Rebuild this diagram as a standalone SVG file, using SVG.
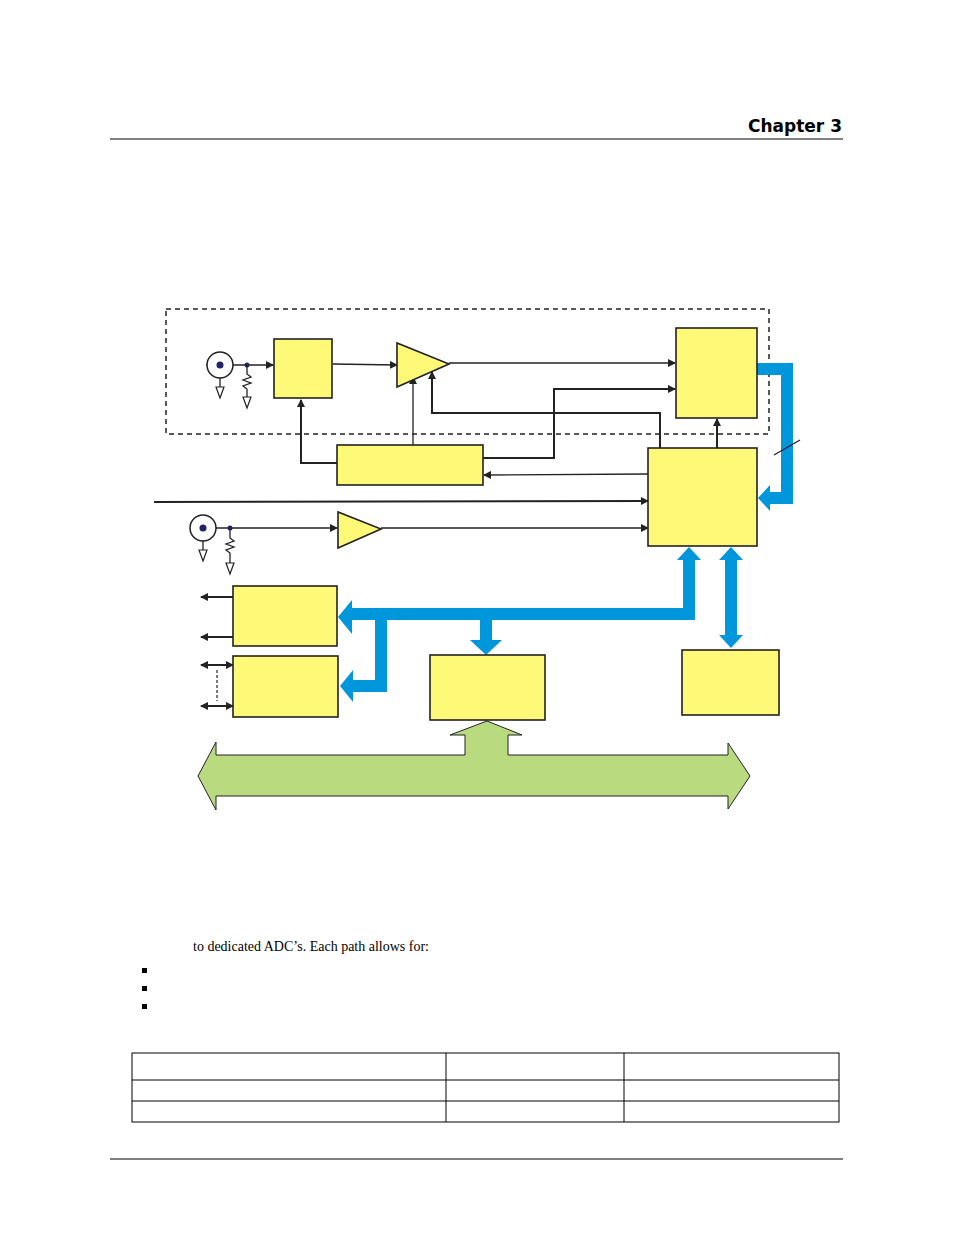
<svg xmlns="http://www.w3.org/2000/svg" width="954" height="1235" viewBox="0 0 954 1235">
<style>
.b{fill:#fff978;stroke:#222;stroke-width:1.6}
.l{fill:none;stroke:#222;stroke-width:1.3}
.t{fill:none;stroke:#222;stroke-width:2}
.bl{fill:none;stroke:#0096dc;stroke-width:12}
.bf{fill:#0096dc}
.g{fill:#fff;stroke:#222;stroke-width:1.2}
</style>
<defs>
<marker id="a" markerWidth="8" markerHeight="8" refX="7" refY="4" orient="auto" markerUnits="userSpaceOnUse"><path d="M0,0 L8,4 L0,8 z" fill="#222"/></marker>
<marker id="as" markerWidth="8" markerHeight="8" refX="1" refY="4" orient="auto" markerUnits="userSpaceOnUse"><path d="M8,0 L0,4 L8,8 z" fill="#222"/></marker>
</defs>
<rect width="954" height="1235" fill="#fff"/>
<text x="842" y="132" text-anchor="end" font-family="DejaVu Sans" font-weight="bold" font-size="17">Chapter 3</text>
<line x1="110" y1="139" x2="843" y2="139" stroke="#000" stroke-width="1"/>
<line x1="110" y1="1159" x2="843" y2="1159" stroke="#000" stroke-width="1"/>
<rect x="166" y="309" width="603" height="125" fill="none" stroke="#222" stroke-width="1.5" stroke-dasharray="5,4"/>
<g id="green-bus"><polygon points="198,776 216,742 216,755 465,755 465,735 450,735 487,721 522,735 508,735 508,755 728,755 728,743 750,776 728,809 728,796 216,796 216,810" fill="#bada80" stroke="#222" stroke-width="1"/></g>
<g id="connectors">
<path class="bl" d="M757,369 H787 V498 H768"/>
<polygon class="bf" points="758,498 770,485 770,511"/>
<line x1="774" y1="455" x2="800" y2="440" stroke="#222" stroke-width="1.3"/>
<path class="bl" d="M689,558 V614 H350"/>
<polygon class="bf" points="689,547 701,560 677,560"/>
<polygon class="bf" points="338,617 352,600 352,634"/>
<path class="bl" d="M381,614 V686 H352"/>
<polygon class="bf" points="340,686 353,670 353,702"/>
<path class="bl" d="M486,620 V642"/>
<polygon class="bf" points="486,655 470,640 502,640"/>
<path class="bl" d="M731,558 V638"/>
<polygon class="bf" points="731,547 743,560 719,560"/>
<polygon class="bf" points="731,648 743,635 719,635"/>
<line class="l" x1="206" y1="365" x2="273" y2="365" marker-end="url(#a)"/>
<line class="l" x1="333" y1="364" x2="397" y2="365" marker-end="url(#a)"/>
<line class="l" x1="449" y1="363" x2="675" y2="363" marker-end="url(#a)"/>
<line class="l" x1="413" y1="445" x2="413" y2="377" marker-end="url(#a)"/>
<polyline class="t" points="337,463 301,463 301,400" marker-end="url(#a)"/>
<polyline class="t" points="483,458 554,458 554,389 675,389" marker-end="url(#a)"/>
<polyline class="t" points="660,448 660,413 432,413 432,372" marker-end="url(#a)"/>
<line class="t" x1="717" y1="448" x2="717" y2="419" marker-end="url(#a)"/>
<line class="l" x1="648" y1="474" x2="484" y2="475" marker-end="url(#a)"/>
<line class="t" x1="154" y1="502" x2="648" y2="501" marker-end="url(#a)"/>
<line class="l" x1="203" y1="528" x2="337" y2="528" marker-end="url(#a)"/>
<line class="l" x1="381" y1="528" x2="648" y2="528" marker-end="url(#a)"/>
<line class="t" x1="233" y1="597" x2="201" y2="597" marker-end="url(#a)"/>
<line class="t" x1="233" y1="637" x2="201" y2="637" marker-end="url(#a)"/>
<line class="t" x1="201" y1="665" x2="233" y2="665" marker-start="url(#as)" marker-end="url(#a)"/>
<line class="t" x1="201" y1="706" x2="233" y2="706" marker-start="url(#as)" marker-end="url(#a)"/>
<line x1="217" y1="670" x2="217" y2="701" stroke="#222" stroke-width="1.2" stroke-dasharray="3,2"/>
</g>
<g id="input1">
<circle cx="220" cy="365" r="13" fill="#fff" stroke="#222" stroke-width="1.5"/>
<circle cx="220" cy="365" r="3.5" fill="#22226a"/>
<circle cx="247" cy="365" r="2.5" fill="#22226a"/>
<line class="l" x1="220" y1="378" x2="220" y2="387"/>
<polygon class="g" points="216,387 224,387 220,398"/>
<polyline class="l" points="247,365 247,374 251,377 243,380 251,383 243,386 247,389 247,397"/>
<polygon class="g" points="243,397 251,397 247,408"/>
</g>
<g id="input2">
<circle cx="203" cy="528" r="13" fill="#fff" stroke="#222" stroke-width="1.5"/>
<circle cx="203" cy="528" r="3.5" fill="#22226a"/>
<circle cx="230" cy="528" r="2.5" fill="#22226a"/>
<line class="l" x1="203" y1="541" x2="203" y2="550"/>
<polygon class="g" points="199,550 207,550 203,561"/>
<polyline class="l" points="230,528 230,538 234,541 226,544 234,547 226,550 230,553 230,563"/>
<polygon class="g" points="226,563 234,563 230,574"/>
</g>
<g id="boxA"><rect class="b" x="274" y="339" width="58" height="59"/></g>
<g id="amp1"><polygon class="b" points="397,343 397,387 449,364"/></g>
<g id="boxB"><rect class="b" x="676" y="328" width="81" height="90"/></g>
<g id="boxC"><rect class="b" x="337" y="445" width="146" height="40"/></g>
<g id="boxD"><rect class="b" x="648" y="448" width="109" height="98"/></g>
<g id="amp2"><polygon class="b" points="338,512 338,548 381,529"/></g>
<g id="boxE"><rect class="b" x="233" y="586" width="104" height="60"/></g>
<g id="boxF"><rect class="b" x="233" y="656" width="105" height="61"/></g>
<g id="boxG"><rect class="b" x="430" y="655" width="115" height="65"/></g>
<g id="boxH"><rect class="b" x="682" y="650" width="97" height="65"/></g>
<text x="193" y="951" font-family="Liberation Serif" font-size="14">to dedicated ADC’s. Each path allows for:</text>
<rect x="142" y="968" width="5" height="5" fill="#000"/>
<rect x="142" y="986" width="5" height="5" fill="#000"/>
<rect x="142" y="1004" width="5" height="5" fill="#000"/>
<g fill="none" stroke="#000" stroke-width="1">
<rect x="132" y="1053" width="707" height="69"/>
<line x1="132" y1="1080" x2="839" y2="1080"/>
<line x1="132" y1="1101" x2="839" y2="1101"/>
<line x1="446" y1="1053" x2="446" y2="1122"/>
<line x1="624" y1="1053" x2="624" y2="1122"/>
</g>
</svg>
